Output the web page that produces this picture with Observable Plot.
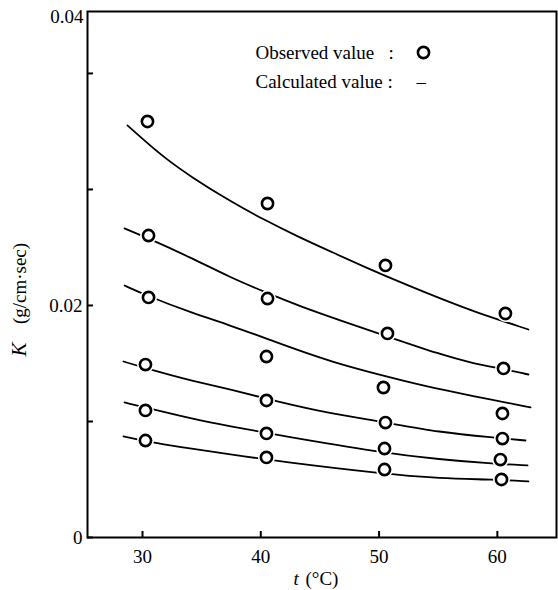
<!DOCTYPE html>
<html><head><meta charset="utf-8">
<script src="https://cdn.jsdelivr.net/npm/d3@7"></script>
<script src="https://cdn.jsdelivr.net/npm/@observablehq/plot@0.6"></script>
<style>body{margin:0;background:#fff;} svg{display:block;}</style>
</head><body><div id="chart"></div>
<script>
// Observed values (circles), one row per series
const obsT = [
  [30.42, 40.57, 50.54, 60.68],
  [30.51, 40.57, 50.71, 60.52],
  [30.51, 40.48, 50.37, 60.43],
  [30.25, 40.48, 50.54, 60.43],
  [30.25, 40.48, 50.46, 60.26],
  [30.25, 40.48, 50.46, 60.35]
];
const obsK = [
  [0.03586, 0.02879, 0.02345, 0.01931],
  [0.02603, 0.02060, 0.01759, 0.01457],
  [0.02069, 0.01560, 0.01293, 0.01069],
  [0.01491, 0.01181, 0.00991, 0.00853],
  [0.01095, 0.00897, 0.00767, 0.00672],
  [0.00836, 0.00690, 0.00586, 0.00500]
];
// Calculated values (curves)
const calcT = [
  [28.73, 30.25, 31.94, 34.06, 37.44, 40.23, 43.10, 45.89, 48.68, 52.65, 55.19, 57.98, 62.63],
  [28.48, 30.51, 34.06, 37.44, 40.23, 43.36, 46.74, 50.71, 55.19, 57.98, 60.26, 62.63],
  [28.48, 30.51, 34.06, 37.44, 40.23, 45.89, 52.65, 55.19, 59.42, 62.80],
  [28.39, 30.93, 34.06, 37.44, 41.41, 45.89, 50.12, 55.19, 59.67, 62.38],
  [28.48, 31.27, 34.06, 37.44, 41.67, 50.12, 55.19, 59.42, 62.55],
  [28.39, 31.27, 34.06, 37.44, 41.67, 50.12, 55.19, 59.67, 62.63]
];
const calcK = [
  [0.03552, 0.03414, 0.03267, 0.03112, 0.02897, 0.02741, 0.02595, 0.02466, 0.02336, 0.02164, 0.02060, 0.01948, 0.01793],
  [0.02664, 0.02578, 0.02414, 0.02241, 0.02121, 0.01991, 0.01871, 0.01733, 0.01578, 0.01500, 0.01457, 0.01405],
  [0.02172, 0.02078, 0.01940, 0.01828, 0.01724, 0.01509, 0.01336, 0.01276, 0.01190, 0.01121],
  [0.01517, 0.01440, 0.01353, 0.01276, 0.01172, 0.01069, 0.01000, 0.00905, 0.00862, 0.00836],
  [0.01164, 0.01095, 0.01026, 0.00957, 0.00879, 0.00733, 0.00672, 0.00638, 0.00621],
  [0.00871, 0.00810, 0.00767, 0.00716, 0.00655, 0.00552, 0.00509, 0.00500, 0.00483]
];
const xTicks = [30, 40, 50, 60];
const yTicks = [0, 0.01, 0.02, 0.03, 0.04];
const yTickLabels = new Map([[0, "0"], [0.02, "0.02"]]);
const yTopLabel = "0.04";
const legendObserved = "Observed value\u00A0\u00A0\u00A0:";
const legendCalculated = "Calculated value\u00A0:\u00A0\u00A0\u00A0\u00A0\u00A0\u2013";
const xLabelVar = "t", xLabelUnit = "(\u00B0C)";
const yLabelVar = "K", yLabelUnit = "(g/cm\u00B7sec)";

const observed = obsT.flatMap((ts, s) => ts.map((t, i) => ({series: s, t, k: obsK[s][i]})));
const calculated = calcT.flatMap((ts, s) => ts.map((t, i) => ({series: s, t, k: calcK[s][i]})));

const W = 558, H = 590, mL = 87, mR = 2, mT = 11, mB = 53;
const frameW = W - mL - mR, frameH = H - mT - mB;
const font = "'Liberation Serif', 'Times New Roman', serif";

const chart = Plot.plot({
  width: W, height: H,
  marginLeft: mL, marginRight: mR, marginTop: mT, marginBottom: mB,
  style: {fontFamily: font, fontSize: "19px", background: "#fff", color: "#000"},
  x: {domain: [25.35, 65], ticks: xTicks, tickSize: 0, tickPadding: 12, tickFormat: d => String(d), label: null},
  y: {domain: [0, 0.04534], ticks: yTicks, tickSize: 0, tickPadding: 5, tickFormat: d => yTickLabels.get(d) ?? "", label: null},
  marks: [
    Plot.line(calculated, {x: "t", y: "k", z: "series", curve: "basis", stroke: "#000", strokeWidth: 1.8}),
    Plot.dot(observed, {x: "t", y: "k", r: 8.5, fill: "#fff", stroke: null}),
    Plot.dot(observed, {x: "t", y: "k", r: 5.6, fill: "#fff", stroke: "#000", strokeWidth: 2.6}),
    Plot.tickX(xTicks, {x: d => d, insetTop: frameH - 6, stroke: "#000", strokeWidth: 2}),
    Plot.tickY(yTicks, {y: d => d, insetRight: frameW - 6, stroke: "#000", strokeWidth: 2}),
    Plot.frame({stroke: "#000", strokeWidth: 2}),
    Plot.text([yTopLabel], {text: d => d, frameAnchor: "top-left", dx: -4, dy: 5, textAnchor: "end", lineAnchor: "middle", fontSize: 19}),
    // legend
    Plot.text([legendObserved], {text: d => d, frameAnchor: "top-left", dx: 168, dy: 47, textAnchor: "start", lineAnchor: "bottom", fontSize: 19}),
    Plot.dot([0], {x: null, y: null, frameAnchor: "top-left", dx: 336, dy: 41, r: 5.6, fill: "#fff", stroke: "#000", strokeWidth: 2.6}),
    Plot.text([legendCalculated], {text: d => d, frameAnchor: "top-left", dx: 168, dy: 76, textAnchor: "start", lineAnchor: "bottom", fontSize: 19}),
    // axis labels
    Plot.text([xLabelVar], {text: d => d, frameAnchor: "bottom-left", dx: 206, dy: 47, textAnchor: "start", lineAnchor: "bottom", fontStyle: "italic", fontSize: 19}),
    Plot.text([xLabelUnit], {text: d => d, frameAnchor: "bottom-left", dx: 218, dy: 47, textAnchor: "start", lineAnchor: "bottom", fontSize: 19}),
    Plot.text([yLabelVar], {text: d => d, frameAnchor: "left", dx: -62, dy: 75, rotate: -90, textAnchor: "middle", lineAnchor: "bottom", fontStyle: "italic", fontSize: 21}),
    Plot.text([yLabelUnit], {text: d => d, frameAnchor: "left", dx: -62, dy: 9, rotate: -90, textAnchor: "middle", lineAnchor: "bottom", fontSize: 19})
  ]
});
document.getElementById("chart").appendChild(chart);
</script>
</body></html>
